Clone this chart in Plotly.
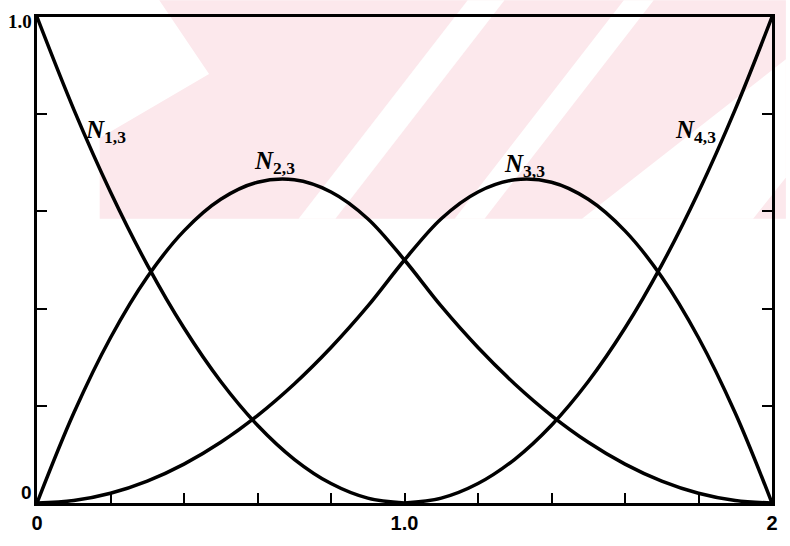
import plotly.graph_objects as go

# Parameter values along the horizontal axis
t_full = [0.0, 0.1, 0.2, 0.3, 0.4, 0.5, 0.6, 0.7, 0.8, 0.9, 1.0,
          1.1, 1.2, 1.3, 1.4, 1.5, 1.6, 1.7, 1.8, 1.9, 2.0]
t_left = [0.0, 0.1, 0.2, 0.3, 0.4, 0.5, 0.6, 0.7, 0.8, 0.9, 1.0]
t_right = [1.0, 1.1, 1.2, 1.3, 1.4, 1.5, 1.6, 1.7, 1.8, 1.9, 2.0]

# Basis function values N_{i,3}
n13 = [1.0, 0.81, 0.64, 0.49, 0.36, 0.25, 0.16, 0.09, 0.04, 0.01, 0.0]
n23 = [0.0, 0.185, 0.34, 0.465, 0.56, 0.625, 0.66, 0.665, 0.64, 0.585, 0.5,
       0.405, 0.32, 0.245, 0.18, 0.125, 0.08, 0.045, 0.02, 0.005, 0.0]
n33 = [0.0, 0.005, 0.02, 0.045, 0.08, 0.125, 0.18, 0.245, 0.32, 0.405, 0.5,
       0.585, 0.64, 0.665, 0.66, 0.625, 0.56, 0.465, 0.34, 0.185, 0.0]
n43 = [0.0, 0.01, 0.04, 0.09, 0.16, 0.25, 0.36, 0.49, 0.64, 0.81, 1.0]

# Curve labels and where they sit
label_text = ["<b><i>N</i></b><sub><b>1,3</b></sub>", "<b><i>N</i></b><sub><b>2,3</b></sub>",
              "<b><i>N</i></b><sub><b>3,3</b></sub>", "<b><i>N</i></b><sub><b>4,3</b></sub>"]
label_x = [0.187, 0.647, 1.326, 1.792]
label_y = [0.765, 0.70, 0.695, 0.765]

# Axis ticks: labelled major ticks, unlabelled minor ticks every 0.2
x_tickvals = [0.0, 1.0, 2.0]
x_ticktext = ["<b>0</b>", "<b>1.0</b>", "<b>2</b>"]
y_tickvals = [0.2, 0.4, 0.6, 0.8]

W, H = 790, 546
ML, MR, MT, MB = 37, 14, 17, 35
PW, PH = W - ML - MR, H - MT - MB


def px(x, y):
    """Page pixel -> paper coordinates."""
    return (x - ML) / PW, (H - MB - y) / PH


def poly(points):
    pts = [px(x, y) for x, y in points]
    return "M " + " L ".join(f"{a:.4f},{b:.4f}" for a, b in pts) + " Z"


fig = go.Figure()

line_style = dict(color="black", width=3.5, shape="spline", smoothing=1.0)
fig.add_trace(go.Scatter(x=t_left, y=n13, mode="lines", line=line_style, hoverinfo="skip"))
fig.add_trace(go.Scatter(x=t_full, y=n23, mode="lines", line=line_style, hoverinfo="skip"))
fig.add_trace(go.Scatter(x=t_full, y=n33, mode="lines", line=line_style, hoverinfo="skip"))
fig.add_trace(go.Scatter(x=t_right, y=n43, mode="lines", line=line_style, hoverinfo="skip"))

# faint pink background emblem in the upper part
pink = "#fce8ec"
emblem = [
    [(160, 0), (790, 0), (790, 222), (100, 222), (100, 140), (210, 75)],
]
gaps = [
    [(300, 222), (337, 222), (507, 0), (470, 0)],
    [(457, 222), (487, 222), (657, 0), (627, 0)],
    [(585, 222), (757, 222), (790, 180), (790, 60)],
]
shapes = []
for pts in emblem:
    shapes.append(dict(type="path", path=poly(pts), xref="paper", yref="paper",
                       fillcolor=pink, line=dict(width=0), layer="below"))
for pts in gaps:
    shapes.append(dict(type="path", path=poly(pts), xref="paper", yref="paper",
                       fillcolor="white", line=dict(width=0), layer="below"))

annotations = []
for txt, x, y in zip(label_text, label_x, label_y):
    annotations.append(dict(x=x, y=y, xref="x", yref="y", text=txt, showarrow=False,
                            font=dict(family="Liberation Serif", size=25, color="black"),
                            xanchor="center", yanchor="middle"))
annotations.append(dict(x=0, y=1, xref="paper", yref="y", text="<b>1.0</b>", showarrow=False,
                        font=dict(family="Liberation Serif", size=19, color="black"),
                        xanchor="right", yanchor="middle", xshift=-3, yshift=-4))
annotations.append(dict(x=0, y=0, xref="paper", yref="y", text="<b>0</b>", showarrow=False,
                        font=dict(family="Liberation Sans", size=19, color="black"),
                        xanchor="right", yanchor="middle", xshift=-3, yshift=11))

fig.update_layout(
    width=W, height=H,
    margin=dict(l=ML, r=MR, t=MT, b=MB, pad=0),
    paper_bgcolor="white", plot_bgcolor="rgba(0,0,0,0)",
    showlegend=False,
    shapes=shapes,
    annotations=annotations,
    xaxis=dict(range=[0, 2], showgrid=False, zeroline=False,
               showline=True, linecolor="black", linewidth=2.5, mirror=True,
               ticks="inside", ticklen=10, tickwidth=2, tickcolor="black",
               tickvals=x_tickvals, ticktext=x_ticktext,
               minor=dict(ticks="inside", ticklen=10, tickwidth=2, tickcolor="black",
                          tick0=0, dtick=0.2, showgrid=False),
               tickfont=dict(family="Liberation Sans", size=20, color="black")),
    yaxis=dict(range=[0, 1], showgrid=False, zeroline=False,
               showline=True, linecolor="black", linewidth=2.5, mirror="ticks",
               ticks="inside", ticklen=10, tickwidth=2, tickcolor="black",
               tickvals=y_tickvals, showticklabels=False),
)

fig.write_html("out.html")
